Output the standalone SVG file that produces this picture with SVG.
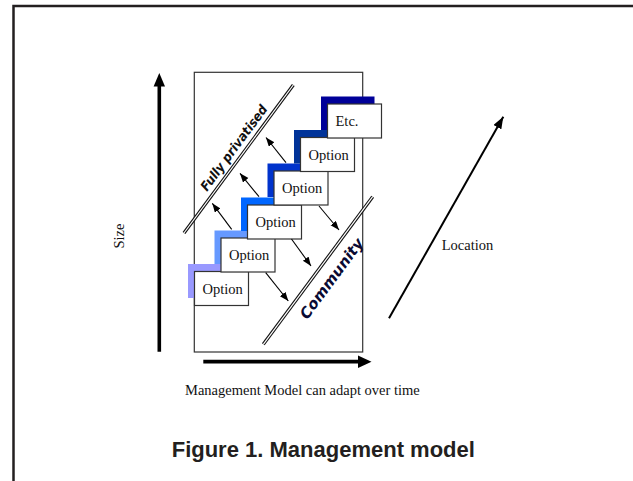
<svg xmlns="http://www.w3.org/2000/svg" width="633" height="481" viewBox="0 0 633 481">
<defs>
<style>
.box{fill:#fff;stroke:#333;stroke-width:1.2}
.lbl{font-family:"Liberation Serif","Times New Roman",serif;font-size:14.5px;fill:#111}
.dbl-o{stroke:#111;stroke-width:3.4;fill:none}
.dbl-i{stroke:#fff;stroke-width:1.2;fill:none}
.sm{stroke:#000;stroke-width:1.1;fill:none;marker-end:url(#ah)}
.side{font-family:"DejaVu Sans","Liberation Sans",sans-serif;font-weight:bold;font-style:italic}
</style>
<marker id="ah" markerUnits="userSpaceOnUse" markerWidth="10" markerHeight="8" refX="9" refY="3.5" orient="auto">
<path d="M0,0 L9,3.5 L0,7 z" fill="#000"/>
</marker>
<marker id="ahL" markerUnits="userSpaceOnUse" markerWidth="13" markerHeight="10" refX="12" refY="4.5" orient="auto">
<path d="M0,0 L12,4.5 L0,9 z" fill="#000"/>
</marker>
</defs>
<rect width="633" height="481" fill="#fff"/>
<path d="M13.5,481 V6 H633" fill="none" stroke="#231f20" stroke-width="2.5"/>

<g id="frame">
<rect x="194.3" y="72.3" width="168.4" height="279.7" fill="none" stroke="#333" stroke-width="1.2"/>
</g>

<g id="fully-privatised">
<line class="dbl-o" x1="184" y1="233" x2="293.3" y2="85"/>
<line class="dbl-i" x1="184" y1="233" x2="293.3" y2="85"/>
<text class="side" font-size="13" fill="#111" text-anchor="middle" textLength="103" lengthAdjust="spacingAndGlyphs" transform="translate(237.6,150.5) rotate(-53.6)">Fully privatised</text>
</g>

<g id="community">
<line class="dbl-o" x1="263.3" y1="344.3" x2="372.7" y2="196.7"/>
<line class="dbl-i" x1="263.3" y1="344.3" x2="372.7" y2="196.7"/>
<text class="side" font-size="15" fill="#0a0a33" text-anchor="middle" textLength="96" lengthAdjust="spacingAndGlyphs" transform="translate(335.8,281.6) rotate(-53.4)">Community</text>
</g>

<g id="steps">
<polygon fill="#9999ff" points="188,264 241.5,264 241.5,271.5 194.5,271.5 194.5,298 188,298"/>
<polygon fill="#6699ff" points="214.5,230.5 268,230.5 268,238 221,238 221,264 214.5,264"/>
<polygon fill="#0066ff" points="241,197.5 294.5,197.5 294.5,205 247.5,205 247.5,231 241,231"/>
<polygon fill="#0033cc" points="267.5,163.5 321,163.5 321,171 274,171 274,197 267.5,197"/>
<polygon fill="#003399" points="294,130 347.5,130 347.5,137.5 300.5,137.5 300.5,163.5 294,163.5"/>
<polygon fill="#000099" points="321,96.5 374.5,96.5 374.5,104 327.5,104 327.5,130 321,130"/>
</g>

<g id="option1"><rect class="box" x="194.5" y="271.5" width="54" height="34"/><text class="lbl" x="202.5" y="293.5">Option</text></g>
<g id="option2"><rect class="box" x="221" y="238" width="54" height="34"/><text class="lbl" x="229" y="260">Option</text></g>
<g id="option3"><rect class="box" x="247.5" y="205" width="54" height="34"/><text class="lbl" x="255.5" y="227">Option</text></g>
<g id="option4"><rect class="box" x="274" y="171" width="54" height="34"/><text class="lbl" x="282" y="193">Option</text></g>
<g id="option5"><rect class="box" x="300.5" y="137.5" width="54" height="34"/><text class="lbl" x="308.5" y="159.5">Option</text></g>
<g id="etc"><rect class="box" x="327.5" y="104" width="54" height="34"/><text class="lbl" x="335.5" y="126">Etc.</text></g>

<g id="connectors">
<line class="sm" x1="231.7" y1="229.3" x2="212.3" y2="203.3"/>
<line class="sm" x1="259" y1="196.7" x2="240" y2="173.3"/>
<line class="sm" x1="286" y1="162.7" x2="266" y2="137.5"/>
<line class="sm" x1="319" y1="206" x2="339" y2="230"/>
<line class="sm" x1="291.5" y1="239" x2="311" y2="266"/>
<line class="sm" x1="265.7" y1="272.7" x2="288.3" y2="301"/>
<line x1="159.3" y1="351.7" x2="159.3" y2="84" stroke="#000" stroke-width="3.6"/>
<polygon points="159.3,73 165,86.5 153.6,86.5" fill="#000"/>
<line x1="203.3" y1="361.7" x2="360" y2="361.7" stroke="#000" stroke-width="3.8"/>
<polygon points="371.5,361.7 358,355.5 358,367.9" fill="#000"/>
<line x1="389" y1="318.3" x2="503.3" y2="116.7" stroke="#000" stroke-width="2" marker-end="url(#ahL)"/>
</g>

<g id="labels">
<text class="lbl" font-size="14" transform="translate(124,236) rotate(-90)" text-anchor="middle">Size</text>
<text class="lbl" font-size="14" x="441.7" y="250">Location</text>
<text class="lbl" x="185" y="395">Management Model can adapt over time</text>
<text x="171.7" y="456.7" font-family="Liberation Sans, Arial, sans-serif" font-weight="bold" font-size="22" fill="#231f20">Figure 1. Management model</text>
</g>
</svg>
